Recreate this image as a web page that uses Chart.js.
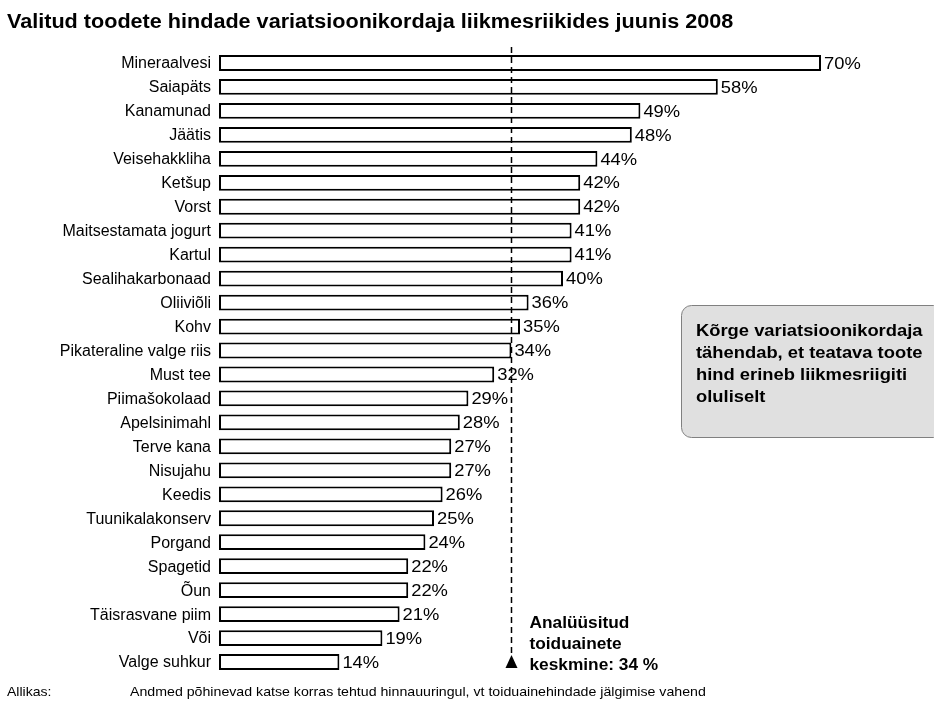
<!DOCTYPE html>
<html>
<head>
<meta charset="utf-8">
<script src="https://cdn.jsdelivr.net/npm/chart.js@4/dist/chart.umd.min.js"></script>
<style>
  body { margin: 0; background: #fff; }
  #wrap { width: 934px; height: 704px; }
</style>
</head>
<body>
<div id="wrap"><canvas id="chart" width="934" height="704"></canvas></div>
<script>
const categories = [
  'Mineraalvesi', 'Saiapäts', 'Kanamunad', 'Jäätis', 'Veisehakkliha', 'Ketšup',
  'Vorst', 'Maitsestamata jogurt', 'Kartul', 'Sealihakarbonaad', 'Oliiviõli', 'Kohv',
  'Pikateraline valge riis', 'Must tee', 'Piimašokolaad', 'Apelsinimahl', 'Terve kana',
  'Nisujahu', 'Keedis', 'Tuunikalakonserv', 'Porgand', 'Spagetid', 'Õun',
  'Täisrasvane piim', 'Või', 'Valge suhkur'
];
const values = [70, 58, 49, 48, 44, 42, 42, 41, 41, 40, 36, 35, 34, 32, 29, 28, 27, 27, 26, 25, 24, 22, 22, 21, 19, 14];
const averageValue = 34;
const titleText = 'Valitud toodete hindade variatsioonikordaja liikmesriikides juunis 2008';
const averageNote = ['Analüüsitud', 'toiduainete', 'keskmine: 34 %'];
const boxNote = ['Kõrge variatsioonikordaja', 'tähendab, et teatava toote', 'hind erineb liikmesriigiti', 'oluliselt'];
const sourceLabel = 'Allikas:';
const sourceText = 'Andmed põhinevad katse korras tehtud hinnauuringul, vt toiduainehindade jälgimise vahend';

const FONT = '"Liberation Sans", Arial, sans-serif';
const SX = 1.08; // the original text is a little wider than Arial

// text with an optional horizontal stretch
function txt(ctx, s, x, y, align, sx) {
  ctx.save();
  ctx.translate(x, y);
  ctx.scale(sx || SX, 1);
  ctx.textAlign = align || 'left';
  ctx.fillText(s, 0, 0);
  ctx.restore();
}

const extrasPlugin = {
  id: 'extras',
  afterDatasetsDraw(chart) {
    const ctx = chart.ctx;
    const meta = chart.getDatasetMeta(0);
    const xs = chart.scales.x;
    const ys = chart.scales.y;
    const area = chart.chartArea;
    ctx.save();
    ctx.fillStyle = '#000';
    ctx.textBaseline = 'middle';

    // category labels
    ctx.font = '16px ' + FONT;
    categories.forEach((c, i) => txt(ctx, c, area.left - 8, ys.getPixelForValue(i) + 1, 'right', 1));

    // value labels
    ctx.font = '17px ' + FONT;
    meta.data.forEach((bar, i) => txt(ctx, values[i] + '%', bar.x + 3, bar.y + 1));

    // average dashed line + triangle
    const ax = Math.round(xs.getPixelForValue(averageValue)) + 0.5;
    ctx.strokeStyle = '#000';
    ctx.lineWidth = 1.5;
    ctx.setLineDash([6, 4]);
    ctx.beginPath();
    ctx.moveTo(ax, area.top - 4);
    ctx.lineTo(ax, area.bottom - 20);
    ctx.stroke();
    ctx.setLineDash([]);
    ctx.beginPath();
    ctx.moveTo(ax, area.bottom - 19);
    ctx.lineTo(ax - 6, area.bottom - 6);
    ctx.lineTo(ax + 6, area.bottom - 6);
    ctx.closePath();
    ctx.fill();

    ctx.font = 'bold 16px ' + FONT;
    averageNote.forEach((t, i) => txt(ctx, t, ax + 18, area.bottom - 50 + i * 21));

    // grey note box
    const bx = 681.5, by = 305.5, bw = 262, bh = 132, r = 10;
    ctx.beginPath();
    ctx.moveTo(bx + r, by);
    ctx.lineTo(bx + bw - r, by);
    ctx.arcTo(bx + bw, by, bx + bw, by + r, r);
    ctx.lineTo(bx + bw, by + bh - r);
    ctx.arcTo(bx + bw, by + bh, bx + bw - r, by + bh, r);
    ctx.lineTo(bx + r, by + bh);
    ctx.arcTo(bx, by + bh, bx, by + bh - r, r);
    ctx.lineTo(bx, by + r);
    ctx.arcTo(bx, by, bx + r, by, r);
    ctx.closePath();
    ctx.fillStyle = '#e0e0e0';
    ctx.fill();
    ctx.strokeStyle = '#808080';
    ctx.lineWidth = 1;
    ctx.stroke();
    ctx.fillStyle = '#000';
    ctx.font = 'bold 17px ' + FONT;
    boxNote.forEach((t, i) => txt(ctx, t, 696, 331 + i * 22));

    // title
    ctx.font = 'bold 20px ' + FONT;
    txt(ctx, titleText, 7, 22);

    // source
    ctx.font = '13px ' + FONT;
    txt(ctx, sourceLabel, 7, 692);
    txt(ctx, sourceText, 130, 692, 'left', 1.09);
    ctx.restore();
  }
};

new Chart(document.getElementById('chart'), {
  type: 'bar',
  data: {
    labels: categories,
    datasets: [{
      data: values,
      backgroundColor: '#ffffff',
      borderColor: '#000000',
      borderWidth: 2,
      borderSkipped: false,
      barPercentage: 0.66,
      categoryPercentage: 1
    }]
  },
  options: {
    indexAxis: 'y',
    responsive: false,
    animation: false,
    layout: { padding: { top: 51, bottom: 30, left: 0, right: 27 } },
    plugins: { legend: { display: false }, tooltip: { enabled: false } },
    scales: {
      x: { display: false, min: 0, max: 80 },
      y: {
        afterFit(scale) { scale.width = 219; },
        grid: { display: false, drawTicks: false },
        border: { display: false },
        ticks: { display: false, autoSkip: false }
      }
    }
  },
  plugins: [extrasPlugin]
});
</script>
</body>
</html>
